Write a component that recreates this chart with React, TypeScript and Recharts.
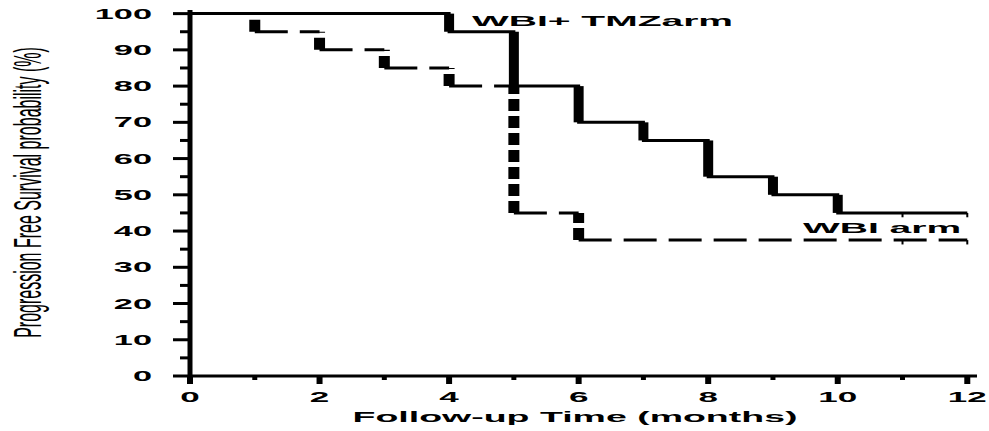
import React from 'react';
import { ComposedChart, Line, XAxis, YAxis, ReferenceLine, Customized } from 'recharts';

const tmzTimes = [0, 4, 5, 6, 7, 8, 9, 10, 12];
const tmzValues = [100, 95, 80, 70, 65, 55, 50, 45, 45];
const wbiTimes = [0, 1, 2, 3, 4, 5, 6, 12];
const wbiValues = [100, 95, 90, 85, 80, 45, 37.5, 37.5];
const censorTimes = [11, 12];
const xTicks = [0, 1, 2, 3, 4, 5, 6, 7, 8, 9, 10, 11, 12];
const yTicks = [0, 5, 10, 15, 20, 25, 30, 35, 40, 45, 50, 55, 60, 65, 70, 75, 80, 85, 90, 95, 100];
const seriesLabels = ['WBI+ TMZarm', 'WBI arm'];
const xTitle = 'Follow-up Time (months)';
const yTitle = 'Progression Free Survival probability (%)';

const FONT = '"Liberation Sans", Arial, Helvetica, sans-serif';

const tmzData = tmzTimes.map((t, i) => ({ t, v: tmzValues[i] }));

const YTick = (props: any) => {
  const { x, y, payload } = props;
  const v = payload.value;
  const major = v % 10 === 0;
  return (
    <g>
      <line x1={x - (major ? 17 : 10)} x2={x} y1={y} y2={y} stroke="#000" strokeWidth={3} />
      {major && (
        <text
          transform={`translate(${x - 38},${y + 5}) scale(2.45,1)`}
          textAnchor="end"
          fontFamily={FONT}
          fontWeight="bold"
          fontSize={14}
          fill="#000"
        >
          {v}
        </text>
      )}
    </g>
  );
};

const XTick = (props: any) => {
  const { x, y, payload } = props;
  const v = payload.value;
  const major = v % 2 === 0;
  return (
    <g>
      <line x1={x} x2={x} y1={y} y2={y + (major ? 8 : 4)} stroke="#000" strokeWidth={major ? 6 : 5} />
      {major && (
        <text
          transform={`translate(${x},${y + 26}) scale(2.5,1)`}
          textAnchor="middle"
          fontFamily={FONT}
          fontWeight="bold"
          fontSize={14}
          fill="#000"
        >
          {v}
        </text>
      )}
    </g>
  );
};

const Texts = () => (
  <g>
    <text
      transform="translate(41,192.5) scale(2.4,1) rotate(-90)"
      textAnchor="middle"
      fontFamily={FONT}
      fontSize={16}
      fill="#000"
    >
      {yTitle}
    </text>
    <text
      transform="translate(575,422) scale(2.5,1)"
      textAnchor="middle"
      fontFamily={FONT}
      fontWeight="bold"
      fontSize={15}
      fill="#000"
    >
      {xTitle}
    </text>
    <text
      transform="translate(472,26) scale(2.6,1)"
      fontFamily={FONT}
      fontWeight="bold"
      fontSize={15}
      fill="#000"
    >
      {seriesLabels[0]}
    </text>
    <text
      transform="translate(803,233) scale(2.6,1)"
      fontFamily={FONT}
      fontWeight="bold"
      fontSize={15}
      fill="#000"
    >
      {seriesLabels[1]}
    </text>
  </g>
);

export default function App() {
  const tmzDrops = tmzTimes.slice(1).map((t, i) => ({ t, from: tmzValues[i], to: tmzValues[i + 1] })).filter(d => d.from !== d.to);
  const wbiDrops = wbiTimes.slice(1).map((t, i) => ({ t, from: wbiValues[i], to: wbiValues[i + 1] })).filter(d => d.from !== d.to);
  const wbiFlats = wbiTimes.slice(0, -1).map((t, i) => ({ t0: t, t1: wbiTimes[i + 1], v: wbiValues[i] }));
  const censorTmz = tmzValues[tmzValues.length - 1];
  const censorWbi = wbiValues[wbiValues.length - 1];

  return (
    <div style={{ position: 'absolute', left: 0, top: 0, width: 989, height: 431, background: '#fff' }}>
      <ComposedChart
        width={989}
        height={431}
        data={tmzData}
        margin={{ top: 10, right: 12, left: 0, bottom: 0 }}
      >
        <XAxis
          dataKey="t"
          type="number"
          domain={[0, 12.15]}
          ticks={xTicks}
          interval={0}
          allowDataOverflow
          height={55}
          tickSize={0}
          tickMargin={0}
          tickLine={false}
          axisLine={{ stroke: '#000', strokeWidth: 3 }}
          tick={<XTick />}
        />
        <YAxis
          type="number"
          domain={[0, 101]}
          ticks={yTicks}
          interval={0}
          allowDataOverflow
          width={190}
          tickSize={0}
          tickMargin={0}
          tickLine={false}
          axisLine={{ stroke: '#000', strokeWidth: 5 }}
          tick={<YTick />}
        />
        <ReferenceLine
          segment={[{ x: 0, y: 0 }, { x: 0, y: -2 }]}
          stroke="#000"
          strokeWidth={5}
          ifOverflow="visible"
        />
        {wbiFlats.map((f, i) => (
          <ReferenceLine
            key={`wf${i}`}
            segment={[{ x: f.t0, y: f.v }, { x: f.t1, y: f.v }]}
            stroke="#000"
            strokeWidth={3}
            strokeDasharray="33 12"
            ifOverflow="visible"
          />
        ))}
        {wbiDrops.map((d, i) => (
          <ReferenceLine
            key={`wd${i}`}
            segment={[{ x: d.t, y: d.to }, { x: d.t, y: d.from }]}
            stroke="#000"
            strokeWidth={11}
            strokeDasharray="12 5"
            ifOverflow="visible"
          />
        ))}
        <Line
          dataKey="v"
          type="stepAfter"
          stroke="#000"
          strokeWidth={3}
          dot={false}
          activeDot={false}
          isAnimationActive={false}
        />
        {tmzDrops.map((d, i) => (
          <ReferenceLine
            key={`td${i}`}
            segment={[{ x: d.t, y: d.to }, { x: d.t, y: d.from }]}
            stroke="#000"
            strokeWidth={10}
            ifOverflow="visible"
          />
        ))}
        {censorTimes.map((t, i) => (
          <ReferenceLine
            key={`ct${i}`}
            segment={[{ x: t, y: censorTmz }, { x: t, y: censorTmz - 1.2 }]}
            stroke="#000"
            strokeWidth={2}
            ifOverflow="visible"
          />
        ))}
        {censorTimes.map((t, i) => (
          <ReferenceLine
            key={`cw${i}`}
            segment={[{ x: t, y: censorWbi }, { x: t, y: censorWbi - 1.2 }]}
            stroke="#000"
            strokeWidth={2}
            ifOverflow="visible"
          />
        ))}
        <Customized component={<Texts />} />
      </ComposedChart>
    </div>
  );
}
